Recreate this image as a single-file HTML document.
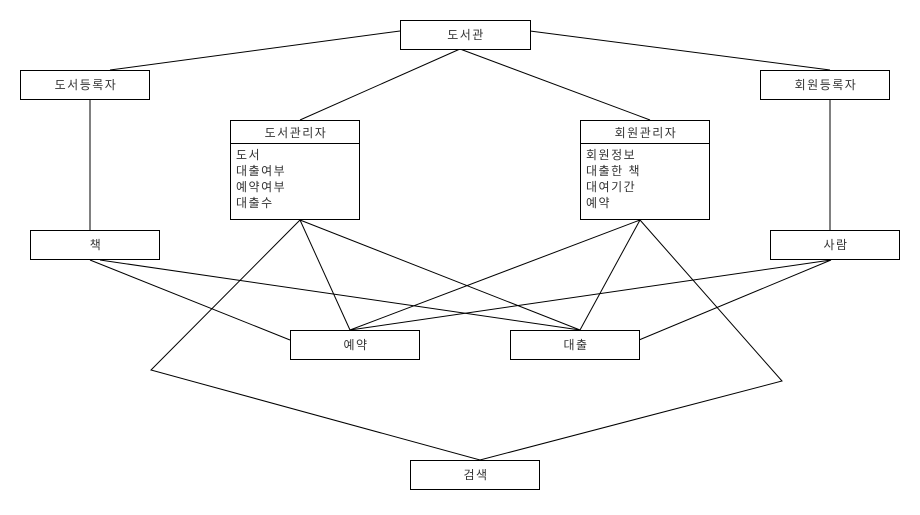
<!DOCTYPE html>
<html><head><meta charset="utf-8"><style>
body{margin:0;background:#fff;}
svg text{font-family:"Liberation Sans","Noto Sans CJK KR","NanumGothic",sans-serif;font-size:12px;fill:#333;letter-spacing:1.5px;}
</style></head><body>
<svg width="920" height="510" xmlns="http://www.w3.org/2000/svg">
<g stroke="#000" stroke-width="1" fill="none">
<line x1="400" y1="31" x2="110" y2="70"/>
<line x1="460" y1="49" x2="300" y2="120"/>
<line x1="460" y1="49" x2="650" y2="120"/>
<line x1="530" y1="31" x2="830" y2="70"/>
<line x1="90" y1="99" x2="90" y2="230"/>
<line x1="830" y1="99" x2="830" y2="230"/>
<polyline points="300,220 151,370 480,460 782,381 640,220"/>
<line x1="300" y1="220" x2="350" y2="330"/>
<line x1="300" y1="220" x2="580" y2="330"/>
<line x1="640" y1="220" x2="350" y2="330"/>
<line x1="640" y1="220" x2="580" y2="330"/>
<line x1="90" y1="260" x2="290" y2="340"/>
<line x1="100" y1="260" x2="580" y2="330"/>
<line x1="831" y1="260" x2="350" y2="330"/>
<line x1="831" y1="260" x2="639" y2="340"/>
</g>
<g stroke="#000" stroke-width="1" fill="#fff">
<rect x="400.5" y="20.5" width="130" height="29"/>
<rect x="20.5" y="70.5" width="129" height="29"/>
<rect x="760.5" y="70.5" width="129" height="29"/>
<rect x="230.5" y="120.5" width="129" height="99"/>
<rect x="580.5" y="120.5" width="129" height="99"/>
<rect x="30.5" y="230.5" width="129" height="29"/>
<rect x="770.5" y="230.5" width="129" height="29"/>
<rect x="290.5" y="330.5" width="129" height="29"/>
<rect x="510.5" y="330.5" width="129" height="29"/>
<rect x="410.5" y="460.5" width="129" height="29"/>
<line x1="230" y1="143.5" x2="360" y2="143.5"/>
<line x1="580" y1="143.5" x2="710" y2="143.5"/>
</g>
<g text-anchor="middle">
<text x="466" y="39">도서관</text>
<text x="86" y="89">도서등록자</text>
<text x="826" y="89">회원등록자</text>
<text x="296" y="137">도서관리자</text>
<text x="646" y="137">회원관리자</text>
<text x="96" y="249">책</text>
<text x="836" y="249">사람</text>
<text x="356" y="349">예약</text>
<text x="576" y="349">대출</text>
<text x="476" y="479">검색</text>
</g>
<g>
<text x="236" y="159">도서</text>
<text x="236" y="175">대출여부</text>
<text x="236" y="191">예약여부</text>
<text x="236" y="207">대출수</text>
<text x="586" y="159">회원정보</text>
<text x="586" y="175">대출한 책</text>
<text x="586" y="191">대여기간</text>
<text x="586" y="207">예약</text>
</g>
</svg>
</body></html>
